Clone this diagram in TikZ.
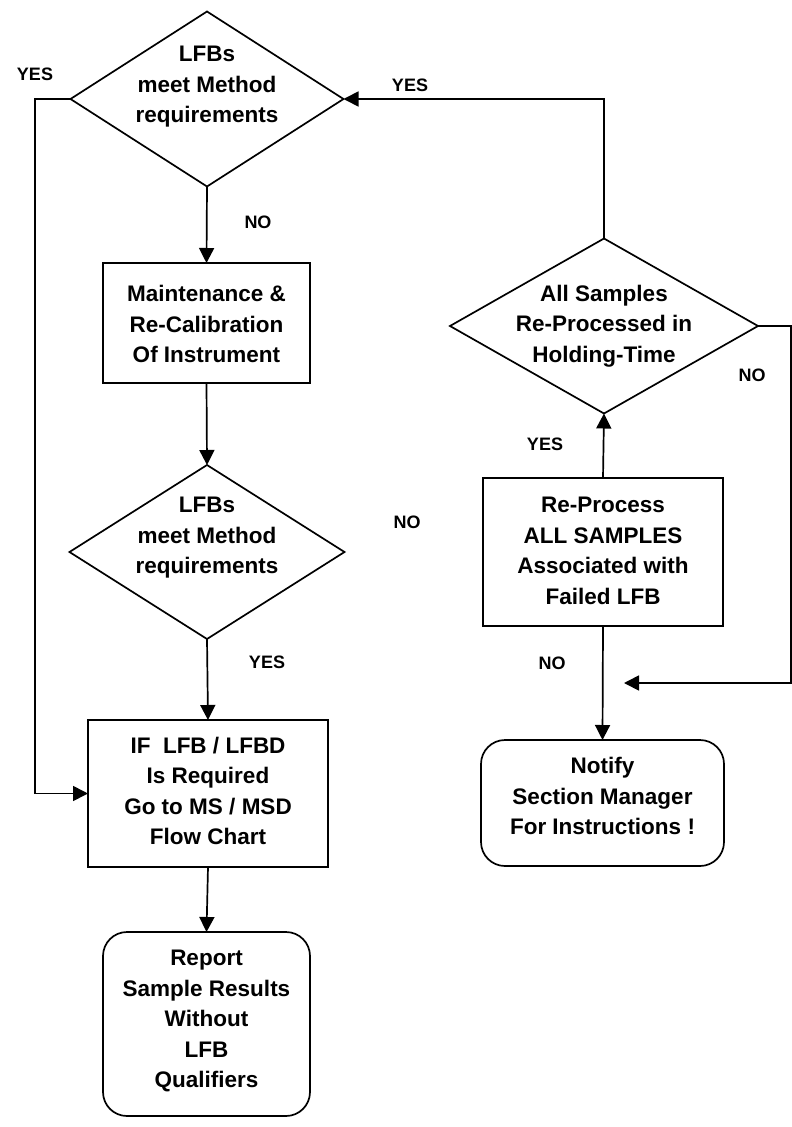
\documentclass[tikz,border=0pt]{standalone}
\usepackage{fontspec}
\setmainfont{Liberation Sans}
\usetikzlibrary{shapes.geometric,arrows.meta}
\begin{document}
\begin{tikzpicture}[x=1pt,y=-1pt,
  line width=1.7pt,
  every node/.style={inner sep=0pt, outer sep=0pt},
  txt/.style={align=center, font=\fontsize{22.5}{30.5}\selectfont\bfseries},
  lbl/.style={font=\fontsize{18}{20}\selectfont\bfseries},
  boxa/.style={draw, rectangle, line width=1.7pt},
  rbox/.style={draw, rectangle, rounded corners=24pt, line width=1.7pt},
  dia/.style={draw, diamond, line width=1.7pt},
  arr/.style={-{Triangle[length=15pt,width=15pt]}}]
\useasboundingbox (0,0) rectangle (792,1127);
% decision 1
\node[dia, minimum width=273pt, minimum height=175pt] (d1) at (207,99) {};
\node[txt] (t1) at (207,87) {LFBs\\meet Method\\requirements};
% maintenance box
\node[boxa, minimum width=207pt, minimum height=120pt] (b2) at (206.5,323) {};
\node[txt] (t2) at (206.5,324) {Maintenance \&\\Re-Calibration\\Of Instrument};
% decision 3
\node[dia, minimum width=275pt, minimum height=174pt] (d3) at (207,552) {};
\node[txt] (t3) at (207,538) {LFBs\\meet Method\\requirements};
% IF box
\node[boxa, minimum width=240pt, minimum height=147pt] (b4) at (208,793.5) {};
\node[txt] (t4) at (208,791) {IF~~LFB / LFBD\\Is Required\\Go to MS / MSD\\Flow Chart};
% report
\node[rbox, minimum width=207pt, minimum height=184pt] (b5) at (206.5,1024) {};
\node[txt] (t5) at (206.5,1021) {Report\\Sample Results\\Without\\LFB\\Qualifiers};
% decision 2
\node[dia, minimum width=308pt, minimum height=175pt] (d2) at (604,326) {};
\node[txt] (t6) at (604,326) {All Samples\\Re-Processed in\\Holding-Time};
% re-process box
\node[boxa, minimum width=240pt, minimum height=148pt] (b6) at (603,552) {};
\node[txt] (t7) at (603,551) {Re-Process\\ALL SAMPLES\\Associated with\\Failed LFB};
% notify
\node[rbox, minimum width=243pt, minimum height=126pt] (b7) at (602.5,803) {};
\node[txt] (t8) at (602.5,796) {Notify\\Section Manager\\For Instructions !};
% free end
\coordinate (fe) at (624,683);
% connectors
\draw[arr] (d1.south) -- (b2.north);
\draw[arr] (b2.south) -- (d3.north);
\draw[arr] (d3.south) -- (b4.north);
\draw[arr] (b4.south) -- (b5.north);
\draw[arr] (d1.west) -- (35,99) |- (b4.west);
\draw[arr] (d2.north) |- (d1.east);
\draw[arr] (b6.north) -- (d2.south);
\draw[arr] (b6.south) -- (b7.north);
\draw[arr] (d2.east) -- (791,326) |- (fe);
% labels
\node[lbl] (l1) at (35,74) {YES};
\node[lbl] (l2) at (410,85) {YES};
\node[lbl] (l3) at (258,222) {NO};
\node[lbl] (l4) at (752,375) {NO};
\node[lbl] (l5) at (545,444) {YES};
\node[lbl] (l6) at (407,522) {NO};
\node[lbl] (l7) at (267,662) {YES};
\node[lbl] (l8) at (552,663) {NO};
\end{tikzpicture}
\end{document}
